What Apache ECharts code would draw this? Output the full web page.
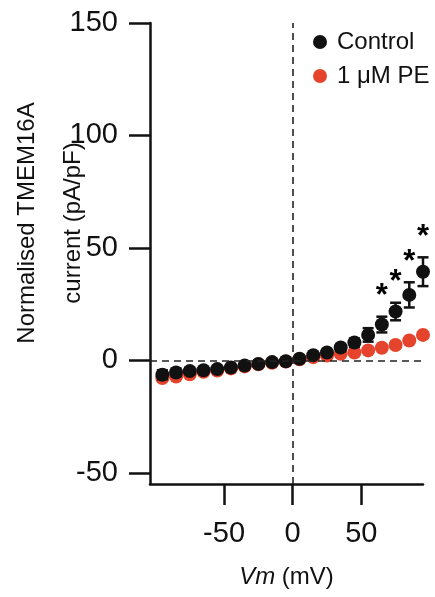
<!DOCTYPE html>
<html>
<head>
<meta charset="utf-8">
<script src="https://cdn.jsdelivr.net/npm/echarts@6/dist/echarts.min.js"></script>
<style>
  html, body { margin: 0; padding: 0; background: #fff; }
  #chart { width: 435px; height: 597px; }
</style>
</head>
<body>
<div id="chart"></div>
<script>
// Membrane potential steps (mV)
const voltages = [-95, -85, -75, -65, -55, -45, -35, -25, -15, -5, 5, 15, 25, 35, 45, 55, 65, 75, 85, 95];
// Control: mean current density and SEM (pA/pF)
const controlMean = [-6.4, -5.4, -4.8, -4.4, -3.9, -3.2, -2.3, -1.6, -0.8, -0.4, 0.7, 2.3, 3.5, 5.7, 7.9, 11.3, 15.9, 21.7, 29.1, 39.4];
const controlErr = [2.0, 1.7, 1.4, 1.2, 1.0, 0.9, 0.8, 0.7, 0.6, 0.5, 0.6, 0.8, 1.0, 1.3, 1.8, 3.0, 3.5, 3.9, 5.6, 6.4];
// 1 μM PE: mean current density (pA/pF)
const peMean = [-7.9, -7.2, -6.2, -5.1, -4.5, -3.6, -2.7, -1.8, -1.1, -0.5, 0.5, 1.4, 2.1, 2.9, 3.5, 4.4, 5.6, 6.8, 8.8, 11.3];
// Voltages with a significant difference
const starVoltages = [65, 75, 85, 95];
// Axis tick values
const yTicks = [-50, 0, 50, 100, 150];
const xTicks = [-50, 0, 50];

const FONT = '"Liberation Sans", Arial, Helvetica, sans-serif';
const BLACK = '#111111';
const RED = '#e5432b';

const chart = echarts.init(document.getElementById('chart'), null, { renderer: 'canvas' });

const errData = voltages.map((v, i) => [v, controlMean[i] - controlErr[i], controlMean[i] + controlErr[i]]);
const starData = starVoltages.map(v => {
  const i = voltages.indexOf(v);
  return [v, controlMean[i] + controlErr[i]];
});

const axisLine = { show: true, onZero: false, lineStyle: { color: BLACK, width: 2.5 } };

chart.setOption({
  animation: false,
  backgroundColor: '#fff',
  grid: { left: 150, right: 12, top: 23, bottom: 113, containLabel: false },
  legend: {
    orient: 'vertical',
    left: 308,
    top: 25,
    itemWidth: 14,
    itemHeight: 14,
    itemGap: 10,
    icon: 'circle',
    data: ['Control', '1 μM PE'],
    textStyle: { fontFamily: FONT, fontSize: 24, color: BLACK, padding: [0, 0, 0, 5], lineHeight: 24 }
  },
  xAxis: {
    type: 'value',
    min: -104,
    max: 95,
    axisLine: axisLine,
    axisTick: { show: true, customValues: xTicks, length: 21, inside: false, lineStyle: { color: BLACK, width: 2.5 } },
    axisLabel: { customValues: xTicks, margin: 35, fontFamily: FONT, fontSize: 29, color: BLACK },
    splitLine: { show: false },
    name: '{i|Vm} (mV)',
    nameLocation: 'middle',
    nameGap: 81,
    nameTextStyle: {
      fontFamily: FONT, fontSize: 24, color: BLACK,
      rich: { i: { fontFamily: FONT, fontSize: 24, fontStyle: 'italic', color: BLACK } }
    }
  },
  yAxis: {
    type: 'value',
    min: -55,
    max: 150,
    axisLine: axisLine,
    axisTick: { show: true, customValues: yTicks, length: 21, inside: false, lineStyle: { color: BLACK, width: 2.5 } },
    axisLabel: { customValues: yTicks, margin: 32, fontFamily: FONT, fontSize: 29, color: BLACK },
    splitLine: { show: false }
  },
  graphic: [
    {
      type: 'text', x: 27, y: 223, rotation: Math.PI / 2,
      style: { text: 'Normalised TMEM16A', fontFamily: FONT, fontSize: 24, fill: BLACK, align: 'center', verticalAlign: 'middle' }
    },
    {
      type: 'text', x: 73, y: 223, rotation: Math.PI / 2,
      style: { text: 'current (pA/pF)', fontFamily: FONT, fontSize: 24, fill: BLACK, align: 'center', verticalAlign: 'middle' }
    }
  ],
  series: [
    {
      name: '1 μM PE',
      type: 'scatter',
      z: 2,
      symbol: 'circle',
      symbolSize: 14,
      itemStyle: { color: RED, opacity: 1 },
      data: voltages.map((v, i) => [v, peMean[i]]),
      markLine: {
        silent: true,
        symbol: 'none',
        label: { show: false },
        lineStyle: { type: [7, 5], color: '#222', width: 1.6 },
        data: [{ yAxis: 0 }, { xAxis: 0 }]
      }
    },
    {
      name: 'Control SEM',
      type: 'custom',
      z: 3,
      silent: true,
      data: errData,
      renderItem: function (params, api) {
        const x = api.value(0);
        const lo = api.coord([x, api.value(1)]);
        const hi = api.coord([x, api.value(2)]);
        const hw = 5.5;
        const st = { stroke: BLACK, lineWidth: 2.5 };
        return {
          type: 'group',
          children: [
            { type: 'line', shape: { x1: lo[0], y1: lo[1], x2: hi[0], y2: hi[1] }, style: st },
            { type: 'line', shape: { x1: hi[0] - hw, y1: hi[1], x2: hi[0] + hw, y2: hi[1] }, style: st },
            { type: 'line', shape: { x1: lo[0] - hw, y1: lo[1], x2: lo[0] + hw, y2: lo[1] }, style: st }
          ]
        };
      }
    },
    {
      name: 'Control',
      type: 'scatter',
      z: 4,
      symbol: 'circle',
      symbolSize: 14,
      itemStyle: { color: BLACK, opacity: 1 },
      data: voltages.map((v, i) => [v, controlMean[i]])
    },
    {
      name: 'significance',
      type: 'scatter',
      z: 5,
      silent: true,
      symbol: 'circle',
      symbolSize: 1,
      itemStyle: { color: 'rgba(0,0,0,0)' },
      data: starData,
      label: {
        show: true,
        position: 'top',
        distance: 4,
        formatter: '*',
        fontFamily: FONT,
        fontSize: 31,
        fontWeight: 'bold',
        color: '#000',
        opacity: 1
      }
    }
  ]
});
</script>
</body>
</html>
